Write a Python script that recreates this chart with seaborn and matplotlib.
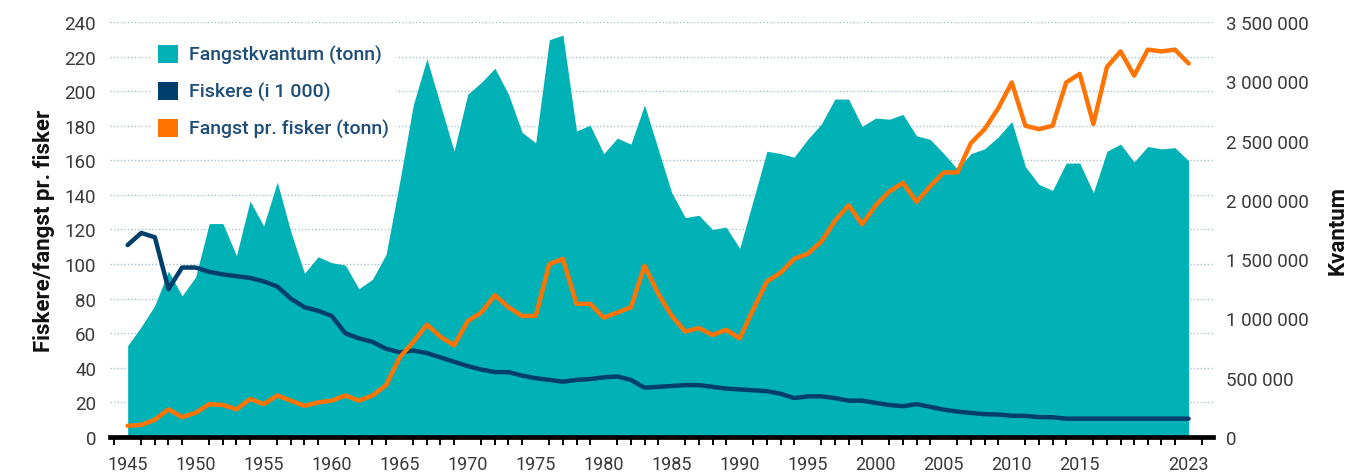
import numpy as np
import pandas as pd
import matplotlib
matplotlib.use("Agg")
import matplotlib.pyplot as plt
import matplotlib.ticker as mticker
from matplotlib.patches import Patch
import seaborn as sns

# --- data ---
years = list(range(1945, 2024))

kvantum_mill = [
    0.77, 0.93, 1.11, 1.40, 1.19, 1.35, 1.80, 1.80, 1.53, 1.99,
    1.78, 2.15, 1.73, 1.38, 1.52, 1.47, 1.45, 1.25, 1.33, 1.54,
    2.15, 2.80, 3.19, 2.80, 2.41, 2.89, 2.99, 3.11, 2.89, 2.57,
    2.48, 3.35, 3.39, 2.58, 2.63, 2.39, 2.52, 2.47, 2.80, 2.43,
    2.06, 1.85, 1.87, 1.75, 1.77, 1.59, 2.00, 2.41, 2.39, 2.36,
    2.51, 2.64, 2.85, 2.85, 2.62, 2.69, 2.68, 2.72, 2.54, 2.51,
    2.39, 2.26, 2.39, 2.43, 2.53, 2.66, 2.28, 2.13, 2.08, 2.31,
    2.31, 2.06, 2.41, 2.47, 2.32, 2.45, 2.43, 2.44, 2.33,
]

fiskere = [
    111, 118, 115.5, 85.5, 98, 98, 95.5, 94, 93, 92,
    90, 87, 80, 75, 73, 70, 60, 57, 55, 51,
    49, 50, 48.5, 46, 43.5, 41, 39, 37.5, 37.5, 35.5,
    34, 33, 32, 33, 33.5, 34.5, 35, 33, 28.5, 29,
    29.5, 30, 30, 29, 28, 27.5, 27, 26.5, 25, 22.5,
    23.5, 23.5, 22.5, 21, 21, 19.7, 18.5, 17.8, 19, 17.4,
    15.8, 14.7, 13.9, 13.2, 13, 12.3, 12.2, 11.5, 11.4, 10.6,
    10.6, 10.6, 10.6, 10.6, 10.6, 10.6, 10.6, 10.6, 10.6,
]

fangst_pr_fisker = [
    6.5, 7, 10, 16, 11.5, 14, 19, 18.5, 16, 22,
    19, 24, 21, 18, 20, 21, 24, 21, 24, 30,
    46, 55, 65, 58, 53, 67, 72, 82, 75, 70,
    70, 100, 103, 77, 77, 69, 72, 75, 99, 83,
    70, 61, 63, 59, 62, 57, 74, 90, 95, 103,
    106, 113, 125, 134, 123, 134, 142, 147, 136, 145,
    153, 153, 170, 178, 190, 205, 180, 178, 180, 205,
    210, 181, 214, 223, 209, 224, 223, 224, 216,
]

xtick_years = [1945, 1950, 1955, 1960, 1965, 1970, 1975, 1980,
               1985, 1990, 1995, 2000, 2005, 2010, 2015, 2023]
labels = ["Fangstkvantum (tonn)", "Fiskere (i 1 000)", "Fangst pr. fisker (tonn)"]

df = pd.DataFrame({
    "year": years,
    "kvantum": np.array(kvantum_mill) * 1e6,
    "fiskere": fiskere,
    "per_fisker": fangst_pr_fisker,
})

# --- styling ---
TEAL = "#00B2B5"
NAVY = "#003E6B"
ORANGE = "#FF7300"
LEGEND_TXT = "#1E4D78"
TICK_TXT = "#3A3A3A"
GRID = "#A9C2D2"

sns.set_theme(style="white")
plt.rcParams["font.family"] = ["Roboto", "DejaVu Sans"]

fig = plt.figure(figsize=(13.51, 4.77), dpi=100)
pos = [0.0814, 0.0818, 0.8165, 0.870]
XLIM = (1943.7, 2024.8)

# bottom layer: left scale + grid
ax = fig.add_axes(pos)
ax.set_xlim(*XLIM)
ax.set_ylim(0, 240)
ax.set_yticks(range(0, 241, 20))
for y in range(20, 241, 20):
    ax.axhline(y, color=GRID, lw=1.0, ls=(0, (1, 1.5)), zorder=0)
for s in ["left", "right", "top", "bottom"]:
    ax.spines[s].set_visible(False)
ax.tick_params(axis="y", length=0, labelsize=13.5, labelcolor=TICK_TXT, pad=10)
ax.set_ylabel("Fiskere/fangst pr. fisker", fontsize=16, fontweight="semibold",
              color="#111111", labelpad=7)
ax.set_xticks(xtick_years)
ax.set_xticklabels([str(y) for y in xtick_years])
ax.xaxis.set_minor_locator(mticker.MultipleLocator(1))
ax.tick_params(axis="x", which="major", length=10, width=1.7, color="black",
               labelsize=13, labelcolor=TICK_TXT, pad=3)
ax.tick_params(axis="x", which="minor", length=5.5, width=1.4, color="black", bottom=True)

# middle layer: area on right scale
ax_r = ax.twinx()
ax_r.patch.set_visible(False)
ax_r.fill_between(df["year"], df["kvantum"], color=TEAL, lw=0, zorder=1)
ax_r.set_ylim(0, 3_500_000)
ax_r.yaxis.set_major_locator(mticker.MultipleLocator(500_000))
ax_r.yaxis.set_major_formatter(
    mticker.FuncFormatter(lambda v, p: f"{v:,.0f}".replace(",", " ")))
ax_r.tick_params(axis="y", length=0, labelsize=13.5, labelcolor=TICK_TXT, pad=9)
ax_r.set_ylabel("Kvantum", fontsize=16, fontweight="semibold", color="#111111", labelpad=13)
for s in ["left", "right", "top"]:
    ax_r.spines[s].set_visible(False)
ax_r.spines["bottom"].set_linewidth(3.4)
ax_r.spines["bottom"].set_color("black")
ax_r.spines["bottom"].set_zorder(5)

# top layer: lines on left scale
ax_l = fig.add_axes(pos, sharex=ax, sharey=ax)
ax_l.set_axis_off()
sns.lineplot(data=df, x="year", y="fiskere", ax=ax_l, color=NAVY, lw=3.2,
             solid_capstyle="round")
sns.lineplot(data=df, x="year", y="per_fisker", ax=ax_l, color=ORANGE, lw=3.2,
             solid_capstyle="round")
ax_l.set_xlim(*XLIM)
ax_l.set_ylim(0, 240)

handles = [Patch(facecolor=c, edgecolor="none") for c in (TEAL, NAVY, ORANGE)]
leg = ax_l.legend(handles, labels, loc="upper left", bbox_to_anchor=(0.037, 0.962),
                  frameon=True, prop={"size": 14, "weight": "medium"},
                  handlelength=1.05, handleheight=1.05,
                  handletextpad=0.57, labelspacing=0.88, borderpad=0.35, borderaxespad=0)
leg.get_frame().set_facecolor("white")
leg.get_frame().set_edgecolor("none")
leg.get_frame().set_alpha(1)
for t in leg.get_texts():
    t.set_color(LEGEND_TXT)

fig.savefig("out.png", dpi=100)
